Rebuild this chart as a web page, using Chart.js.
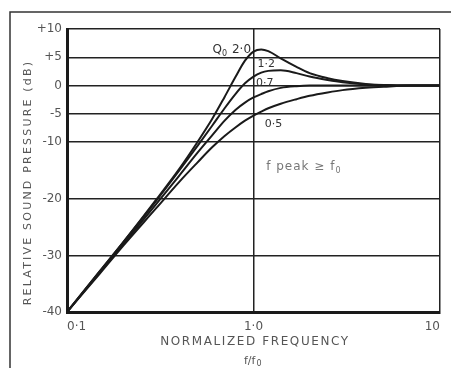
<!DOCTYPE html>
<html>
<head>
<meta charset="utf-8">
<script src="https://cdn.jsdelivr.net/npm/chart.js@4.4.1/dist/chart.umd.min.js"></script>
<style>
  html, body { margin: 0; padding: 0; background: #fff; }
  #wrap { width: 451px; height: 368px; position: relative; }
</style>
</head>
<body>
<div id="wrap"><canvas id="chart" width="451" height="368"></canvas></div>
<script>
// normalized frequency f/f0
const freq = [0.1, 0.15, 0.2, 0.3, 0.4, 0.5, 0.6, 0.7, 0.8, 0.9, 1.0, 1.1, 1.2, 1.4, 1.7, 2, 2.5, 3, 4, 5, 7, 10];

// relative sound pressure (dB), one list per Q0
const q20 = [-40, -32.8, -27.7, -20.2, -14.7, -10.0, -5.9, -2.0, 1.5, 4.4, 6.0, 6.4, 6.1, 4.8, 3.3, 2.2, 1.3, 0.8, 0.3, 0.1, 0, 0];
const q12 = [-40, -32.8, -27.7, -20.4, -15.0, -10.7, -7.1, -4.0, -1.5, 0.4, 1.6, 2.3, 2.6, 2.7, 2.2, 1.6, 1.0, 0.6, 0.2, 0.1, 0, 0];
const q07 = [-40, -33.0, -28.0, -21.0, -15.9, -11.9, -8.8, -6.2, -4.3, -3.0, -2.1, -1.5, -1.0, -0.4, -0.1, 0, 0, 0, 0, 0, 0, 0];
const q05 = [-40, -33.2, -28.3, -21.7, -17.0, -13.6, -10.9, -8.9, -7.4, -6.2, -5.3, -4.6, -4.0, -3.2, -2.4, -1.8, -1.2, -0.8, -0.4, -0.2, 0, 0];

const yTickVals = [-40, -30, -20, -10, -5, 0, 5, 10];
const yTickLabels = ['-40', '-30', '-20', '-10', '-5', '0', '+5', '+10'];
const xTickVals = [0.1, 1, 10];
const xTickLabels = ['0·1', '1·0', '10'];

const ink = '#1a1a1a';
const textInk = '#555';

function series(ys) {
    return freq.map((f, i) => ({ x: f, y: ys[i] }));
}

function line(ys) {
    return {
        data: series(ys),
        borderColor: ink,
        borderWidth: 2,
        pointRadius: 0,
        cubicInterpolationMode: 'monotone',
        fill: false
    };
}

// curve labels, placed in data space
const notes = [
    { x: 0.97, y: 6.3, text: 'Q', sub: '0', after: ' 2·0', align: 'right' },
    { x: 1.05, y: 3.8, text: '1·2', size: 11 },
    { x: 1.03, y: 0.4, text: '0·7', size: 11 },
    { x: 1.15, y: -6.8, text: '0·5', size: 11 },
    { x: 1.17, y: -14.3, text: 'f peak ≥ f', sub: '0', spacing: '1px' }
];

const decor = {
    id: 'decor',
    beforeDraw(chart) {
        const ctx = chart.ctx;
        ctx.save();
        ctx.fillStyle = '#fff';
        ctx.fillRect(0, 0, chart.width, chart.height);
        // outer frame of the figure
        ctx.strokeStyle = '#333';
        ctx.lineWidth = 1.5;
        ctx.beginPath();
        ctx.moveTo(10, chart.height);
        ctx.lineTo(10, 12);
        ctx.lineTo(chart.width, 12);
        ctx.stroke();
        ctx.restore();
    },
    afterDraw(chart) {
        const ctx = chart.ctx;
        const xs = chart.scales.x, ys = chart.scales.y;
        const area = chart.chartArea;
        ctx.save();
        ctx.fillStyle = textInk;
        ctx.textBaseline = 'middle';

        // axis titles
        ctx.font = '11px "DejaVu Sans"';
        ctx.letterSpacing = '2.2px';
        ctx.save();
        ctx.translate(28, (area.top + area.bottom) / 2 + 12);
        ctx.rotate(-Math.PI / 2);
        ctx.textAlign = 'center';
        ctx.fillText('RELATIVE SOUND PRESSURE (dB)', 0, 0);
        ctx.restore();

        ctx.font = '12px "DejaVu Sans"';
        ctx.letterSpacing = '1.6px';
        ctx.textAlign = 'center';
        ctx.fillText('NORMALIZED FREQUENCY', 255, 342);
        ctx.letterSpacing = '0px';
        ctx.font = '11px "DejaVu Sans"';
        ctx.textAlign = 'left';
        ctx.fillText('f/f', 244, 361);
        const fw = ctx.measureText('f/f').width;
        ctx.font = '8px "DejaVu Sans"';
        ctx.fillText('0', 244 + fw + 1, 364);

        // curve labels
        notes.forEach(n => {
            const px = xs.getPixelForValue(n.x);
            const py = ys.getPixelForValue(n.y);
            const main = (n.size || 12) + 'px "DejaVu Sans"';
            ctx.letterSpacing = n.spacing || '0px';
            ctx.font = main;
            const w1 = ctx.measureText(n.text).width;
            ctx.font = '8px "DejaVu Sans"';
            const w2 = n.sub ? ctx.measureText(n.sub).width + 1 : 0;
            ctx.font = main;
            const w3 = n.after ? ctx.measureText(n.after).width : 0;
            const x0 = n.align === 'right' ? px - (w1 + w2 + w3) : px;
            ctx.textAlign = 'left';
            ctx.fillStyle = n.text.startsWith('f') ? '#777' : '#333';
            ctx.fillText(n.text, x0, py);
            if (n.sub) {
                ctx.font = '8px "DejaVu Sans"';
                ctx.fillText(n.sub, x0 + w1, py + 4);
                ctx.font = main;
            }
            if (n.after) ctx.fillText(n.after, x0 + w1 + w2, py);
        });
        ctx.restore();
    }
};

new Chart(document.getElementById('chart'), {
    type: 'line',
    data: {
        datasets: [line(q20), line(q12), line(q07), line(q05)]
    },
    options: {
        responsive: false,
        animation: false,
        events: [],
        layout: { padding: { left: 0, right: 11, top: 29, bottom: 0 } },
        plugins: {
            legend: { display: false },
            tooltip: { enabled: false }
        },
        scales: {
            x: {
                type: 'logarithmic',
                min: 0.1,
                max: 10,
                afterBuildTicks: (s) => { s.ticks = xTickVals.map(v => ({ value: v })); },
                afterFit: (s) => { s.height = 56; },
                border: { display: true, color: ink, width: 3 },
                grid: { color: '#222', lineWidth: 1.5, drawTicks: false },
                ticks: {
                    padding: 8,
                    align: 'inner',
                    maxRotation: 0,
                    autoSkip: false,
                    color: textInk,
                    font: { family: 'DejaVu Sans', size: 12 },
                    callback: (v) => xTickLabels[xTickVals.indexOf(v)]
                }
            },
            y: {
                type: 'linear',
                min: -40,
                max: 10,
                afterBuildTicks: (s) => { s.ticks = yTickVals.map(v => ({ value: v })); },
                afterFit: (s) => { s.width = 67; },
                border: { display: true, color: ink, width: 3 },
                grid: { color: '#222', lineWidth: 1.5, drawTicks: false },
                ticks: {
                    padding: 5,
                    autoSkip: false,
                    color: textInk,
                    font: { family: 'DejaVu Sans', size: 12 },
                    callback: (v) => yTickLabels[yTickVals.indexOf(v)]
                }
            }
        }
    },
    plugins: [decor]
});
</script>
</body>
</html>
